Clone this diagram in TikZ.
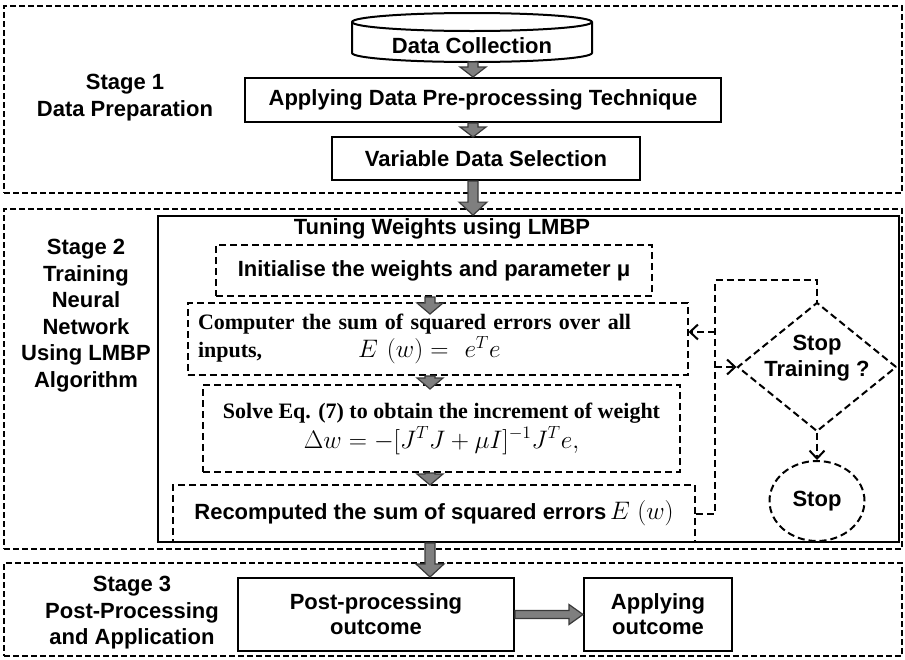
\documentclass[tikz,border=0pt]{standalone}
\usepackage{fontspec}
\setmainfont{Liberation Sans}
\newfontfamily\serifbold{Liberation Serif}
\usetikzlibrary{arrows.meta,calc,shapes.geometric}

\definecolor{arrowfill}{HTML}{7F7F7F}
\definecolor{arrowedge}{HTML}{3A3A3A}

% enlarged formula
\newcommand\fml[1]{\scalebox{1.22}{$#1$}}

% grey block arrows (from, tip, shaft half width, head half width, head length)
\newcommand\garrowdown[5]{%
  \filldraw[garrow] ($(#1)+(-#3,0)$) -- ($(#2)+(-#3,-#5)$) -- ($(#2)+(-#4,-#5)$) -- (#2)
    -- ($(#2)+(#4,-#5)$) -- ($(#2)+(#3,-#5)$) -- ($(#1)+(#3,0)$) -- cycle;}
\newcommand\garrowright[5]{%
  \filldraw[garrow] ($(#1)+(0,-#3)$) -- ($(#2)+(-#5,-#3)$) -- ($(#2)+(-#5,-#4)$) -- (#2)
    -- ($(#2)+(-#5,#4)$) -- ($(#2)+(-#5,#3)$) -- ($(#1)+(0,#3)$) -- cycle;}

\tikzset{
  every node/.style={font=\fontsize{22}{26.5}\selectfont\bfseries},
  stagebox/.style={draw, line width=1.6pt, dash pattern=on 6pt off 3pt,
    minimum width=898pt, inner sep=0pt},
  solidbox/.style={draw, line width=1.8pt, inner sep=0pt},
  sbox/.style={draw, line width=2pt, inner sep=0pt, align=center},
  dbox/.style={draw, line width=2pt, dash pattern=on 7pt off 4pt, inner sep=0pt},
  dline/.style={line width=2pt, dash pattern=on 7pt off 4pt},
  barb/.style={-{Straight Barb[length=8pt,width=15pt]}},
  serif/.style={font=\fontsize{22}{#1}\selectfont\serifbold\bfseries},
  garrow/.style={fill=arrowfill, draw=arrowedge, line width=1.2pt, line join=miter},
}

\begin{document}
\begin{tikzpicture}[x=1pt,y=-1pt]
\useasboundingbox (0,0) rectangle (905,659);

% ---------- stage frames ----------
\node[stagebox, minimum height=187pt] (s1) at (453,99.5) {};
\node[stagebox, minimum height=340pt] (s2) at (453,379) {};
\node[stagebox, minimum height=93pt]  (s3) at (453,609.5) {};

% ---------- stage labels ----------
\node[align=center] (l1) at (125,97.5) {Stage 1\\Data Preparation};
\node[align=center] (l2) at (86,315.5) {Stage 2\\Training\\Neural\\Network\\Using LMBP\\Algorithm};
\node[align=center] (l3) at (132,613) {Stage 3\\Post-Processing\\and Application};

% ---------- stage 1 ----------
% data store (cylinder)
\draw[line width=2pt, fill=white] (352,22) -- (352,53)
  arc[start angle=180, end angle=0, x radius=120, y radius=9] -- (592,22)
  arc[start angle=0, end angle=-180, x radius=120, y radius=9] -- cycle;
\draw[line width=2pt] (352,22) arc[start angle=180, end angle=0, x radius=120, y radius=9];
\node (dc) at (472,46) {Data Collection};
\coordinate (dcb) at (473,62);

\node[sbox, minimum width=476pt, minimum height=44pt] (ap) at (483,100)
  {Applying Data Pre-processing Technique};
\node[sbox, minimum width=308pt, minimum height=43pt] (vs) at (486,158.5)
  {Variable Data Selection};

% ---------- stage 2 ----------
\node (tw) at (442,229) {Tuning Weights using LMBP};
\node[dbox, minimum width=436pt, minimum height=51pt] (iw) at (434,270.5)
  {Initialise the weights and parameter μ};
\node[dbox, serif=28, text width=479pt, inner xsep=10.5pt, minimum height=72pt, align=left]
  (cp) at (437.5,339)
  {Computer the sum of squared errors over all\\inputs,\hspace{96pt}\fml{E\ (w) =\ e^{T}e}};
\node[dbox, serif=30, minimum width=477pt, minimum height=87pt, align=center] (sv) at (441.5,428.5)
  {Solve Eq. (7) to obtain the increment of weight\\\fml{\Delta w = -[J^{T}J+\mu I]^{-1}J^{T}e,}};
\node[dbox, minimum width=522pt, minimum height=57pt] (rc) at (434,513.5)
  {Recomputed the sum of squared errors\,\fml{E\ (w)}};

\node[solidbox, minimum width=741pt, minimum height=326pt] (lm) at (528.5,379) {};

% decision and end
\node[dbox, diamond, aspect=1.23, minimum width=159pt, minimum height=129pt] (dm) at (817,367) {};
\node[align=center] (dmt) at (817,358) {Stop\\Training ?};
\node[dbox, ellipse, minimum width=95pt, minimum height=80pt] (sp) at (817,501) {Stop};

% feedback loop
\coordinate (up1) at (715,280);
\coordinate (j1) at (715,332);
\coordinate (j2) at (715,367);
\draw[dline] (rc.east) -| (up1) -| (dm.north);
\draw[dline, barb] (j1) -- (j1 -| cp.east);
\draw[dline, barb] (j2) -- (dm.west);
\draw[dline, barb] (dm.south) -- (sp.north);

% ---------- stage 3 ----------
\node[sbox, minimum width=276pt, minimum height=73pt, font=\fontsize{22}{25}\selectfont\bfseries]
  (pp) at (376,614.5) {Post-processing\\outcome};
\node[sbox, minimum width=148pt, minimum height=73pt, font=\fontsize{22}{25}\selectfont\bfseries]
  (ao) at (658,614.5) {Applying\\outcome};

% ---------- grey flow arrows ----------
\coordinate (a1e) at (473,0 |- ap.north);
\coordinate (a2s) at (473,0 |- ap.south);
\coordinate (a2e) at ($(473,0 |- vs.north)+(0,1)$);
\coordinate (a3s) at (473,0 |- vs.south);
\coordinate (a3e) at (473,0 |- lm.north);
\garrowdown{dcb}{a1e}{5}{13}{10}
\garrowdown{a2s}{a2e}{5}{13}{10}
\garrowdown{a3s}{a3e}{5}{14}{13}

\coordinate (a4s) at (430,0 |- iw.south);
\coordinate (a4e) at ($(430,0 |- cp.north)+(0,12)$);
\coordinate (a5s) at (430,0 |- cp.south);
\coordinate (a5e) at ($(430,0 |- sv.north)+(0,5)$);
\coordinate (a6s) at (430,0 |- sv.south);
\coordinate (a6e) at ($(430,0 |- rc.north)+(0,1)$);
\coordinate (a7s) at (430,0 |- lm.south);
\coordinate (a7e) at (430,0 |- pp.north);
\garrowdown{a4s}{a4e}{5}{13}{11}
\garrowdown{a5s}{a5e}{5}{13}{11}
\garrowdown{a6s}{a6e}{5}{13}{11}
\garrowdown{a7s}{a7e}{5}{14}{13}

\garrowright{pp.east}{ao.west}{4}{10}{14}

\end{tikzpicture}
\end{document}
